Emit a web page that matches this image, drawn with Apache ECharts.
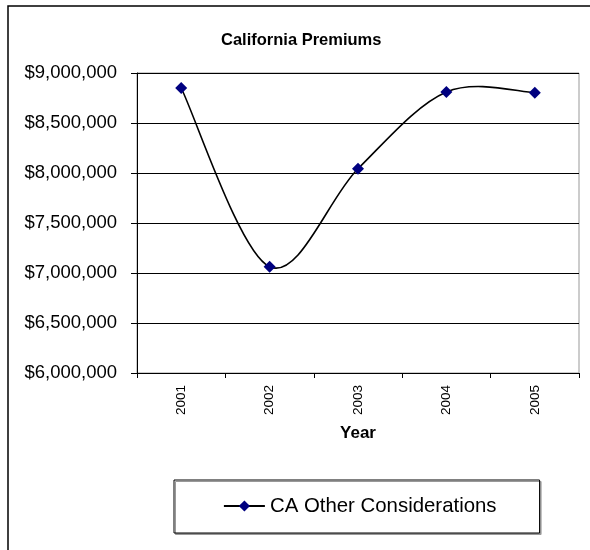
<!DOCTYPE html>
<html>
<head>
<meta charset="utf-8">
<script src="https://cdn.jsdelivr.net/npm/echarts@6/dist/echarts.min.js"></script>
<style>
  html, body { margin: 0; padding: 0; background: #fff; }
  #chart { width: 590px; height: 550px; }
</style>
</head>
<body>
<div id="chart"></div>
<script>
// data
const years = ['2001', '2002', '2003', '2004', '2005'];
const premiums = [8850000, 7063000, 8043000, 8810000, 8803000];
const seriesName = 'CA Other Considerations';

const font = 'Liberation Sans, Arial, sans-serif';
let myChart = echarts.init(document.getElementById('chart'));

// Excel-style smoothed curve (Catmull-Rom -> bezier), one segment per point
function renderCurve(params, api) {
  let i = params.dataIndex;
  let n = premiums.length;
  if (i >= n - 1) return null;
  let p = k => api.coord([Math.max(0, Math.min(n - 1, k)), premiums[Math.max(0, Math.min(n - 1, k))]]);
  let p0 = p(i - 1), p1 = p(i), p2 = p(i + 1), p3 = p(i + 2);
  let c1 = [p1[0] + (p2[0] - p0[0]) / 6, p1[1] + (p2[1] - p0[1]) / 6];
  let c2 = [p2[0] - (p3[0] - p1[0]) / 6, p2[1] - (p3[1] - p1[1]) / 6];
  return {
    type: 'bezierCurve',
    shape: { x1: p1[0], y1: p1[1], cpx1: c1[0], cpy1: c1[1], cpx2: c2[0], cpy2: c2[1], x2: p2[0], y2: p2[1] },
    style: { stroke: '#000', lineWidth: 1.6, fill: null },
    silent: true
  };
}

let option = {
  animation: false,
  textStyle: { fontFamily: font, color: '#000' },
  title: {
    text: 'California Premiums',
    left: 221,
    top: 32,
    padding: 0,
    textStyle: { fontSize: 16.5, fontWeight: 'bold', color: '#000', fontFamily: font }
  },
  grid: {
    left: 137, top: 73, right: 11, bottom: 177,
    show: true, borderColor: '#999', borderWidth: 1
  },
  graphic: [{
    type: 'rect',
    shape: { x: 8, y: 6, width: 620, height: 620 },
    style: { fill: 'none', stroke: '#000', lineWidth: 1.5 },
    silent: true
  }],
  legend: {
    data: [seriesName],
    left: 174,
    top: 480,
    padding: [16, 43, 17, 49],
    borderColor: '#000',
    borderWidth: 1,
    shadowColor: '#999',
    shadowBlur: 0,
    shadowOffsetX: 1.5,
    shadowOffsetY: 1.5,
    backgroundColor: '#fff',
    itemWidth: 41,
    itemHeight: 14,
    itemGap: 5,
    lineStyle: { color: '#000', width: 1.8, opacity: 1 },
    textStyle: { fontSize: 20.4, color: '#000', fontFamily: font }
  },
  xAxis: {
    type: 'category',
    data: years,
    boundaryGap: true,
    name: 'Year',
    nameLocation: 'middle',
    nameGap: 52,
    nameTextStyle: { fontSize: 17, fontWeight: 'bold', color: '#000', fontFamily: font },
    axisLine: { lineStyle: { color: '#000', width: 1 } },
    axisTick: { show: true, length: 5, alignWithLabel: false, lineStyle: { color: '#000' } },
    axisLabel: { rotate: 90, margin: 12, fontSize: 13.5, color: '#000', fontFamily: font, interval: 0 },
    splitLine: { show: false }
  },
  yAxis: {
    type: 'value',
    min: 6000000,
    max: 9000000,
    interval: 500000,
    axisLine: { show: true, lineStyle: { color: '#000', width: 1 } },
    axisTick: { show: true, length: 6, lineStyle: { color: '#000' } },
    axisLabel: {
      margin: 20,
      fontSize: 18.5,
      color: '#000',
      fontFamily: font,
      formatter: v => '$' + v.toLocaleString('en-US')
    },
    splitLine: { show: true, lineStyle: { color: '#000', width: 1 } }
  },
  series: [
    {
      type: 'custom',
      name: 'curve',
      data: premiums.map((v, i) => [i, v]),
      renderItem: renderCurve,
      z: 2,
      silent: true
    },
    {
      name: seriesName,
      type: 'line',
      data: premiums,
      symbol: 'diamond',
      symbolSize: 12,
      itemStyle: { color: '#000080' },
      lineStyle: { color: '#000', width: 1.6, opacity: 0 },
      z: 3
    }
  ]
};
option && myChart.setOption(option);
</script>
</body>
</html>
